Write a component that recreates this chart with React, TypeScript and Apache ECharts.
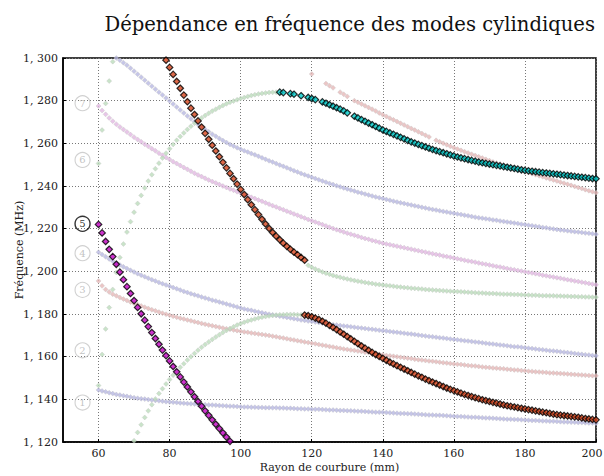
import React, { useEffect, useRef } from "react";
import * as echarts from "echarts";

const TITLE = "Dépendance en fréquence des modes cylindiques";
const X_NAME = "Rayon de courbure (mm)";
const Y_NAME = "Fréquence (MHz)";
const X_TICKS = [60, 80, 100, 120, 140, 160, 180, 200];

// Faint background modes (x step 1 mm, value in MHz)
const BLUE1_START = 60;
const BLUE1 = [
  1144.4,1143.9,1143.5,1143.1,1142.7,1142.3,1142.0,1141.7,1141.4,1141.1,
  1140.8,1140.5,1140.3,1140.1,1139.9,1139.7,1139.5,1139.3,1139.1,1138.9,
  1138.8,1138.6,1138.5,1138.3,1138.2,1138.0,1137.9,1137.8,1137.7,1137.6,
  1137.5,1137.4,1137.3,1137.2,1137.1,1137.0,1136.9,1136.8,1136.7,1136.6,
  1136.5,1136.4,1136.4,1136.3,1136.3,1136.2,1136.2,1136.1,1136.1,1136.0,
  1136.0,1135.9,1135.9,1135.8,1135.8,1135.7,1135.6,1135.6,1135.5,1135.5,
  1135.4,1135.3,1135.3,1135.2,1135.1,1135.0,1135.0,1134.9,1134.8,1134.8,
  1134.7,1134.6,1134.5,1134.4,1134.4,1134.3,1134.2,1134.1,1134.0,1134.0,
  1133.9,1133.8,1133.7,1133.6,1133.5,1133.4,1133.4,1133.3,1133.2,1133.1,
  1133.0,1132.9,1132.8,1132.7,1132.6,1132.5,1132.5,1132.4,1132.3,1132.2,
  1132.1,1132.0,1131.9,1131.8,1131.7,1131.6,1131.6,1131.5,1131.4,1131.3,
  1131.2,1131.1,1131.0,1130.9,1130.8,1130.7,1130.7,1130.6,1130.5,1130.4,
  1130.3,1130.2,1130.1,1130.1,1130.0,1129.9,1129.8,1129.7,1129.7,1129.6,
  1129.5,1129.4,1129.4,1129.3,1129.2,1129.1,1129.1,1129.0,1128.9,1128.9,
  1128.8,
];

const RED3_START = 60;
const RED3 = [
  1195.5,1193.2,1191.5,1190.3,1189.3,1188.5,1187.7,1187.0,1186.3,1185.6,
  1185.0,1184.4,1183.8,1183.2,1182.6,1182.0,1181.5,1180.9,1180.4,1179.9,
  1179.4,1178.9,1178.5,1178.0,1177.6,1177.2,1176.8,1176.4,1176.0,1175.6,
  1175.2,1174.8,1174.5,1174.1,1173.8,1173.4,1173.1,1172.8,1172.5,1172.2,
  1171.9,1171.6,1171.4,1171.1,1170.9,1170.6,1170.4,1170.1,1169.9,1169.6,
  1169.3,1169.0,1168.7,1168.4,1168.1,1167.8,1167.5,1167.2,1166.9,1166.6,
  1166.3,1166.0,1165.7,1165.4,1165.1,1164.8,1164.5,1164.2,1163.9,1163.6,
  1163.4,1163.1,1162.9,1162.6,1162.4,1162.1,1161.9,1161.6,1161.4,1161.1,
  1160.9,1160.6,1160.4,1160.2,1160.0,1159.7,1159.5,1159.3,1159.1,1158.8,
  1158.6,1158.4,1158.2,1158.0,1157.8,1157.6,1157.4,1157.2,1157.0,1156.8,
  1156.6,1156.4,1156.3,1156.1,1155.9,1155.7,1155.6,1155.4,1155.2,1155.0,
  1154.9,1154.7,1154.6,1154.4,1154.3,1154.1,1154.0,1153.8,1153.7,1153.5,
  1153.4,1153.2,1153.1,1152.9,1152.8,1152.7,1152.6,1152.4,1152.3,1152.2,
  1152.1,1152.0,1151.9,1151.7,1151.6,1151.5,1151.4,1151.3,1151.2,1151.1,
  1151.0,
];

const BLUE4_START = 60;
const BLUE4 = [
  1209.0,1207.9,1206.8,1205.8,1204.8,1203.9,1203.0,1202.1,1201.3,1200.5,
  1199.7,1198.9,1198.2,1197.5,1196.8,1196.1,1195.5,1194.8,1194.2,1193.6,
  1193.0,1192.4,1191.8,1191.2,1190.6,1190.1,1189.5,1189.0,1188.5,1188.0,
  1187.5,1187.0,1186.5,1186.1,1185.6,1185.2,1184.7,1184.2,1183.8,1183.3,
  1182.8,1182.4,1182.0,1181.7,1181.3,1180.9,1180.6,1180.2,1179.9,1179.6,
  1179.3,1179.0,1178.7,1178.4,1178.1,1177.8,1177.5,1177.2,1177.0,1176.7,
  1176.5,1176.2,1176.0,1175.7,1175.5,1175.2,1175.0,1174.8,1174.6,1174.4,
  1174.2,1174.0,1173.8,1173.6,1173.4,1173.2,1173.0,1172.8,1172.6,1172.4,
  1172.2,1172.0,1171.8,1171.6,1171.4,1171.2,1171.0,1170.8,1170.6,1170.4,
  1170.1,1169.9,1169.7,1169.5,1169.3,1169.1,1168.9,1168.7,1168.5,1168.3,
  1168.1,1167.9,1167.7,1167.5,1167.3,1167.1,1166.9,1166.7,1166.5,1166.3,
  1166.1,1165.9,1165.7,1165.5,1165.3,1165.1,1164.9,1164.7,1164.6,1164.4,
  1164.2,1164.0,1163.8,1163.6,1163.4,1163.2,1163.0,1162.8,1162.7,1162.5,
  1162.3,1162.1,1161.9,1161.7,1161.5,1161.3,1161.1,1160.9,1160.8,1160.6,
  1160.4,
];

const PINK6_START = 60;
const PINK6 = [
  1277.5,1275.4,1273.6,1271.9,1270.4,1269.0,1267.7,1266.5,1265.3,1264.1,
  1262.9,1261.8,1260.7,1259.6,1258.6,1257.5,1256.5,1255.4,1254.4,1253.4,
  1252.4,1251.4,1250.5,1249.6,1248.7,1247.8,1246.9,1246.0,1245.2,1244.4,
  1243.6,1242.8,1242.1,1241.4,1240.7,1240.0,1239.3,1238.6,1238.0,1237.3,
  1236.7,1236.0,1235.4,1234.7,1234.1,1233.4,1232.8,1232.1,1231.5,1230.8,
  1230.2,1229.5,1228.9,1228.2,1227.6,1226.9,1226.3,1225.6,1225.0,1224.3,
  1223.7,1223.1,1222.5,1221.9,1221.3,1220.7,1220.1,1219.5,1219.0,1218.4,
  1217.9,1217.4,1216.9,1216.4,1215.9,1215.4,1215.0,1214.5,1214.1,1213.6,
  1213.2,1212.8,1212.5,1212.1,1211.8,1211.4,1211.1,1210.7,1210.4,1210.0,
  1209.7,1209.3,1209.0,1208.6,1208.3,1207.9,1207.6,1207.2,1206.9,1206.6,
  1206.3,1205.9,1205.6,1205.2,1204.9,1204.6,1204.3,1203.9,1203.6,1203.3,
  1203.0,1202.6,1202.3,1202.0,1201.7,1201.3,1201.0,1200.7,1200.4,1200.1,
  1199.8,1199.5,1199.2,1198.9,1198.6,1198.2,1197.9,1197.6,1197.3,1197.0,
  1196.7,1196.4,1196.1,1195.8,1195.5,1195.2,1194.9,1194.6,1194.3,1194.0,
  1193.7,
];

const BLUE7_START = 65;
const BLUE7 = [
  1300.0,1299.0,1297.8,1296.6,1295.2,
  1293.8,1292.4,1291.0,1289.6,1288.2,1286.8,1285.4,1284.0,1282.6,1281.2,
  1279.8,1278.4,1277.0,1275.6,1274.2,1272.8,1271.5,1270.2,1268.9,1267.7,
  1266.5,1265.4,1264.3,1263.3,1262.3,1261.3,1260.4,1259.5,1258.7,1257.9,
  1257.2,1256.5,1255.9,1255.2,1254.6,1253.9,1253.2,1252.5,1251.8,1251.2,
  1250.5,1249.8,1249.2,1248.5,1247.9,1247.2,1246.6,1245.9,1245.3,1244.7,
  1244.1,1243.5,1242.9,1242.3,1241.8,1241.2,1240.7,1240.1,1239.6,1239.1,
  1238.6,1238.1,1237.6,1237.1,1236.7,1236.2,1235.8,1235.3,1234.9,1234.5,
  1234.1,1233.7,1233.3,1232.9,1232.5,1232.1,1231.8,1231.4,1231.1,1230.7,
  1230.4,1230.0,1229.7,1229.3,1229.0,1228.7,1228.4,1228.1,1227.8,1227.5,
  1227.2,1226.9,1226.6,1226.3,1226.0,1225.7,1225.4,1225.1,1224.9,1224.6,
  1224.4,1224.1,1223.9,1223.6,1223.4,1223.1,1222.9,1222.6,1222.4,1222.1,
  1221.9,1221.6,1221.4,1221.1,1220.9,1220.6,1220.4,1220.1,1219.9,1219.6,
  1219.4,1219.2,1219.0,1218.8,1218.6,1218.4,1218.2,1218.0,1217.8,1217.6,
  1217.4,
];

const RED8_START = 120;
const RED8 = [
  1292.5,null,null,null,1288.0,1287.0,1286.0,null,1284.0,1283.0,
  1282.0,null,1280.0,1279.2,1278.4,1277.6,1276.8,1276.0,1275.2,1274.2,
  1273.4,1272.6,1271.8,1271.0,1270.2,1269.4,1268.6,1267.8,1267.0,1266.2,
  1265.4,1264.6,1263.8,1263.0,null,1261.4,1260.7,1260.0,1259.3,1258.6,
  1257.9,1257.3,1256.7,1256.1,1255.5,1254.9,1254.3,1253.7,1253.1,1252.5,
  1251.9,1251.3,1250.8,1250.3,1249.8,1249.3,1248.8,1248.3,1247.8,1247.3,
  1246.8,1246.3,1245.8,1245.3,1244.8,1244.3,1243.8,1243.3,1242.8,1242.3,
  1241.8,1241.3,1240.8,1240.3,1239.8,1239.3,1238.8,1238.3,1237.8,1237.3,
  1236.8,
];

const GREEN_A_START = 70;
const GREEN_A = [
  1120.6,1124.5,1128.1,1131.5,1134.6,1137.5,1140.2,1142.7,1145.0,1147.2,
  1149.3,1151.3,1153.2,1155.0,1156.7,1158.4,1160.0,1161.5,1163.0,1164.4,
  1165.7,1166.9,1168.1,1169.2,1170.3,1171.3,1172.3,1173.2,1174.0,1174.8,
  1175.5,1176.1,1176.7,1177.2,1177.7,1178.1,1178.5,1178.8,1179.1,1179.3,
  1179.5,1179.6,1179.7,1179.8,1179.8,1179.8,1179.7,1179.6,
];

const GREEN_B_START = 60;
const GREEN_B = [
  1146.5,1161.0,1173.0,1183.0,1191.5,1199.5,1206.5,1212.8,1218.4,1223.3,
  1227.7,1231.8,1235.6,1239.1,1242.3,1245.3,1248.1,1250.7,1253.1,1255.4,
  1257.5,1259.5,1261.4,1263.2,1264.9,1266.5,1268.0,1269.4,1270.7,1271.9,
  1273.0,1274.1,1275.1,1276.0,1276.9,1277.7,1278.5,1279.2,1279.8,1280.4,
  1281.0,1281.5,1282.0,1282.4,1282.8,1283.1,1283.4,1283.6,1283.8,1283.9,
  1284.0,
];

const GREEN_C_START = 60;
const GREEN_C = [1250.6, 1266.2, 1278.7, 1289.2, 1298.3];

const GREEN_D_START = 119;
const GREEN_D = [
  1202.8,1201.9,1201.1,1200.4,1199.7,1199.1,1198.6,1198.1,1197.6,1197.2,
  1196.8,1196.4,1196.0,1195.7,1195.4,1195.1,1194.8,1194.5,1194.3,1194.0,
  1193.8,1193.6,1193.4,1193.2,1193.0,1192.8,1192.6,1192.4,1192.3,1192.1,
  1192.0,1191.8,1191.7,1191.5,1191.4,1191.3,1191.1,1191.0,1190.9,1190.8,
  1190.7,1190.6,1190.5,1190.4,1190.3,1190.2,1190.1,1190.0,1189.9,1189.8,
  1189.7,1189.6,1189.6,1189.5,1189.4,1189.3,1189.3,1189.2,1189.1,1189.1,
  1189.0,1188.9,1188.9,1188.8,1188.8,1188.7,1188.6,1188.6,1188.5,1188.5,
  1188.4,1188.4,1188.3,1188.3,1188.2,1188.2,1188.1,1188.1,1188.0,1188.0,
  1187.9,1187.9,
];

// Highlighted modes (black-edged markers)
const MAGENTA_START = 60;
const MAGENTA = [
  1222.0,1218.0,1214.0,1210.3,1206.9,1203.3,1199.6,1196.1,1192.8,1189.6,
  1186.3,1183.1,1180.1,1177.1,1174.1,1171.3,1168.5,1165.8,1163.1,1160.5,
  1158.0,1155.4,1152.9,1150.5,1148.1,1145.8,1143.5,1141.2,1139.0,1136.8,
  1134.6,1132.5,1130.4,1128.3,1126.3,1124.3,1122.3,1120.3,
];

const ORANGE_UP_START = 79;
const ORANGE_UP = [
  1299.0,1295.6,1292.3,1289.0,1285.8,1282.6,1279.5,1276.5,1273.5,1270.5,
  1267.6,1264.7,1261.9,1259.1,1256.4,1253.7,1251.1,1248.5,1245.9,1243.4,
  1240.9,1238.4,1236.0,1233.6,1231.2,1228.9,1226.6,1224.4,1222.2,1220.1,
  1218.2,1216.5,1214.8,1213.2,1211.7,1210.3,1209.0,1207.8,1206.5,1205.2,
];

const ORANGE_LOW_START = 118;
const ORANGE_LOW = [
  1179.5,1179.2,1178.7,1178.1,1177.4,1176.6,1175.7,1174.7,1173.7,1172.7,
  1171.6,1170.5,1169.4,1168.3,1167.2,1166.1,1165.0,1164.0,1163.0,1162.0,
  1161.0,1160.1,1159.2,1158.3,1157.4,1156.6,1155.8,1155.0,1154.2,1153.4,
  1152.6,1151.8,1151.0,1150.3,1149.5,1148.8,1148.1,1147.4,1146.7,1146.0,
  1145.3,1144.7,1144.1,1143.5,1142.9,1142.3,1141.8,1141.3,1140.8,1140.3,
  1139.8,1139.4,1139.0,1138.6,1138.2,1137.8,1137.4,1137.0,1136.7,1136.4,
  1136.1,1135.8,1135.5,1135.2,1134.9,1134.6,1134.3,1134.0,1133.7,1133.4,
  1133.1,1132.8,1132.6,1132.4,1132.2,1132.0,1131.8,1131.6,1131.3,1131.0,
  1130.8,1130.6,1130.4,
];

const CYAN_START = 111;
const CYAN = [
  1284.0,1283.8,null,1283.3,1283.0,null,1282.3,null,1281.5,
  1281.0,1280.5,null,1279.4,1278.8,1278.1,1277.4,1276.7,1276.0,1275.2,
  1274.3,null,1272.7,1271.9,1271.1,1270.3,1269.5,1268.7,1267.9,1267.1,
  1266.3,1265.6,1264.9,1264.2,1263.5,1262.8,1262.1,1261.4,1260.7,1260.1,
  1259.5,1258.9,1258.3,1257.7,1257.1,1256.6,1256.1,1255.6,1255.1,1254.6,
  1254.1,1253.6,1253.2,1252.8,1252.4,1252.0,1251.6,1251.2,1250.9,1250.6,
  1250.3,1250.0,1249.7,1249.4,1249.1,1248.8,1248.5,1248.2,1247.9,1247.6,
  1247.3,1247.1,1246.9,1246.7,1246.5,1246.3,1246.1,1245.9,1245.7,1245.5,
  1245.3,1245.1,1244.9,1244.7,1244.5,1244.3,1244.1,1243.9,1243.7,1243.5,
  1243.4,
];

// Circled mode numbers
const MODE_LABELS = ["1", "2", "3", "4", "5", "6", "7"];
const MODE_LABEL_X = [55.5, 55.5, 55.5, 55.5, 55.5, 55.5, 55.5];
const MODE_LABEL_Y = [1138.5, 1163.0, 1191.3, 1208.5, 1222.3, 1252.2, 1278.8];
const ACTIVE_MODE = "5";

const SERIF = "DejaVu Serif";

function pts(start: number, vals: (number | null)[]) {
  const out: number[][] = [];
  vals.forEach((v, i) => {
    if (v !== null) out.push([start + i, v]);
  });
  return out;
}

function faint(name: string, start: number, vals: (number | null)[], color: string) {
  return {
    name,
    type: "scatter",
    data: pts(start, vals),
    symbol: "diamond",
    symbolSize: 5,
    silent: true,
    z: 2,
    itemStyle: { color, borderColor: "rgba(190,190,190,0.85)", borderWidth: 0.5 },
  };
}

function bold(name: string, start: number, vals: (number | null)[], color: string) {
  return {
    name,
    type: "scatter",
    data: pts(start, vals),
    symbol: "diamond",
    symbolSize: 6.5,
    silent: true,
    z: 5,
    itemStyle: { color, borderColor: "#000", borderWidth: 1.2 },
  };
}

export default function App() {
  const ref = useRef<HTMLDivElement>(null);
  useEffect(() => {
    if (!ref.current) return;
    const chart = echarts.init(ref.current, undefined, { renderer: "svg" });
    const BLUE = "#b8b8e2";
    const RED = "#e6b8b8";
    const PINK = "#e2b8e2";
    const GREEN = "#bcdcbc";
    const lastTick = X_TICKS[X_TICKS.length - 1];
    const labelData = MODE_LABELS.map((t, i) => {
      const active = t === ACTIVE_MODE;
      return {
        value: [MODE_LABEL_X[i], MODE_LABEL_Y[i], t],
        itemStyle: {
          color: "rgba(255,255,255,0)",
          borderColor: active ? "#000" : "#c4c4c4",
          borderWidth: active ? 1.4 : 1.1,
        },
        label: { color: active ? "#000" : "#b4b4b4" },
      };
    });
    chart.setOption({
      animation: false,
      backgroundColor: "#fff",
      textStyle: { fontFamily: SERIF },
      title: {
        text: TITLE,
        right: 4,
        top: 9,
        textStyle: { fontFamily: SERIF, fontSize: 19.6, fontWeight: "normal", color: "#111" },
      },
      grid: { left: 63, top: 58, width: 533, height: 384, show: true, borderColor: "#000", borderWidth: 1.5, outerBoundsMode: "none" },
      xAxis: {
        type: "value",
        min: 50,
        max: 200,
        name: X_NAME,
        nameLocation: "middle",
        nameGap: 20,
        nameMoveOverlap: false,
        nameTextStyle: { fontFamily: SERIF, fontSize: 11, color: "#222" },
        axisLine: { show: true, lineStyle: { color: "#000", width: 1.5 } },
        axisTick: { show: true, inside: true, length: 3, customValues: X_TICKS, lineStyle: { color: "#000" } },
        axisLabel: {
          customValues: X_TICKS,
          fontFamily: SERIF,
          fontSize: 11,
          color: "#222",
          margin: 6,
          formatter: (v: number) => (v === lastTick ? `{edge|${v}}` : `${v}`),
          rich: {
            edge: { fontFamily: SERIF, fontSize: 11, color: "#222", padding: [0, 8, 0, 0] },
          },
        },
        splitLine: { show: true, lineStyle: { color: "#777", type: [1, 2], width: 1 } },
      },
      yAxis: {
        type: "value",
        min: 1120,
        max: 1300,
        interval: 20,
        name: Y_NAME,
        nameLocation: "middle",
        nameGap: 38,
        nameMoveOverlap: false,
        nameTextStyle: { fontFamily: SERIF, fontSize: 11, color: "#222" },
        axisLine: { show: true, lineStyle: { color: "#000", width: 1.5 } },
        axisTick: { show: true, inside: true, length: 3, lineStyle: { color: "#000" } },
        axisLabel: {
          fontFamily: SERIF,
          fontSize: 11,
          color: "#222",
          margin: 5,
          formatter: (v: number) => `${Math.floor(v / 1000)}, ${String(v % 1000).padStart(3, "0")}`,
        },
        splitLine: { show: true, lineStyle: { color: "#777", type: [1, 2], width: 1 } },
      },
      series: [
        faint("mode1", BLUE1_START, BLUE1, BLUE),
        faint("mode3", RED3_START, RED3, RED),
        faint("mode4", BLUE4_START, BLUE4, BLUE),
        faint("mode6", PINK6_START, PINK6, PINK),
        faint("mode7", BLUE7_START, BLUE7, BLUE),
        faint("mode8", RED8_START, RED8, RED),
        faint("greenA", GREEN_A_START, GREEN_A, GREEN),
        faint("greenB", GREEN_B_START, GREEN_B, GREEN),
        faint("greenC", GREEN_C_START, GREEN_C, GREEN),
        faint("greenD", GREEN_D_START, GREEN_D, GREEN),
        bold("magenta", MAGENTA_START, MAGENTA, "#c000c0"),
        bold("orangeUp", ORANGE_UP_START, ORANGE_UP, "#d4441c"),
        bold("orangeLow", ORANGE_LOW_START, ORANGE_LOW, "#d4441c"),
        bold("cyan", CYAN_START, CYAN, "#00c8c8"),
        {
          name: "labels",
          type: "scatter",
          symbol: "circle",
          symbolSize: 15,
          silent: true,
          z: 6,
          data: labelData,
          label: {
            show: true,
            position: "inside",
            fontFamily: SERIF,
            fontSize: 10,
            formatter: (p: any) => p.value[2],
          },
        },
      ],
    });
    return () => chart.dispose();
  }, []);
  return (
    <div
      ref={ref}
      style={{ position: "fixed", left: 0, top: 0, width: 604, height: 476, background: "#fff" }}
    />
  );
}
